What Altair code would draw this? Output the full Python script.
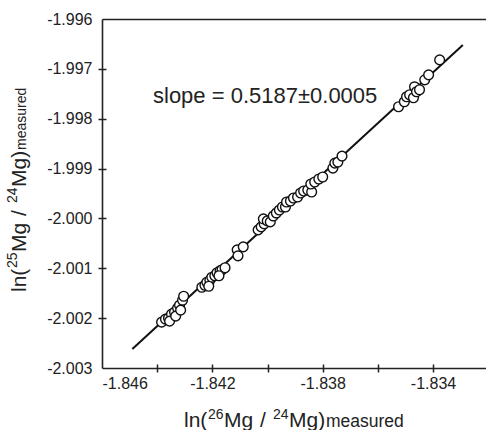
import altair as alt
import pandas as pd

FONT = "Liberation Sans"
INK = "#222222"

# measured isotope ratios
x_vals = [
    -1.84384, -1.84370, -1.84359, -1.84348, -1.84337, -1.84326, -1.84319, -1.84308,
    -1.84304, -1.84355, -1.84333, -1.84315,
    -1.84238, -1.84227, -1.84220, -1.84209, -1.84202, -1.84191, -1.84183, -1.84172,
    -1.84165, -1.84154, -1.84213, -1.84176,
    -1.84110, -1.84107, -1.84088,
    -1.84034, -1.84023, -1.84012, -1.84015, -1.84001, -1.83990, -1.83979, -1.83968,
    -1.83957, -1.83946, -1.83935, -1.83931, -1.83917, -1.83906, -1.83891, -1.83880,
    -1.83869, -1.83854, -1.83840, -1.83843, -1.83829, -1.83814, -1.83800, -1.83763,
    -1.83756, -1.83745, -1.83730,
    -1.83525, -1.83504, -1.83496, -1.83485, -1.83471, -1.83467, -1.83460, -1.83449,
    -1.83430, -1.83416, -1.83376,
]
y_vals = [
    -2.00208, -2.00202, -2.00200, -2.00192, -2.00188, -2.00180, -2.00174, -2.00164,
    -2.00156, -2.00206, -2.00196, -2.00184,
    -2.00138, -2.00134, -2.00128, -2.00124, -2.00118, -2.00115, -2.00109, -2.00105,
    -2.00103, -2.00099, -2.00136, -2.00115,
    -2.00063, -2.00075, -2.00057,
    -2.00023, -2.00017, -2.00011, -2.00001, -2.00005, -2.00007, -1.99995, -1.99989,
    -1.99983, -1.99977, -1.99977, -1.99967, -1.99965, -1.99959, -1.99957, -1.99949,
    -1.99945, -1.99943, -1.99947, -1.99931, -1.99927, -1.99921, -1.99917, -1.99899,
    -1.99889, -1.99887, -1.99875,
    -1.99776, -1.99766, -1.99756, -1.99752, -1.99758, -1.99736, -1.99746, -1.99742,
    -1.99722, -1.99712, -1.99682,
]

# regression line end points
line_x = [-1.84490, -1.83292]
line_y = [-2.00262, -1.99652]

x_domain = [-1.846, -1.83208]
y_domain = [-2.003, -1.996]
x_tick_marks = [-1.844, -1.842, -1.840, -1.838, -1.836, -1.834]
x_tick_labels = [-1.846, -1.842, -1.838, -1.834]
y_tick_marks = [-2.002, -2.001, -2.000, -1.999, -1.998, -1.997]
y_tick_labels = [-2.003, -2.002, -2.001, -2.000, -1.999, -1.998, -1.997, -1.996]

annotation = "slope = 0.5187\u00b10.0005"

pts = pd.DataFrame({"x": x_vals, "y": y_vals})
ln = pd.DataFrame({"x": line_x, "y": line_y})

xs = alt.Scale(domain=x_domain, nice=False, zero=False)
ys = alt.Scale(domain=y_domain, nice=False, zero=False)
lab = "replace(format(datum.value, '.3f'), '\u2212', '-')"

main_x = alt.Axis(orient="bottom", values=x_tick_labels, ticks=False, tickSize=0,
                  domain=True, domainColor=INK, domainWidth=1.6, grid=False, title=None,
                  labelFont=FONT, labelFontSize=16, labelColor=INK, labelPadding=7,
                  labelExpr=lab)
main_y = alt.Axis(orient="left", values=y_tick_labels, ticks=False, tickSize=0,
                  domain=True, domainColor=INK, domainWidth=1.6, grid=False, title=None,
                  labelFont=FONT, labelFontSize=16, labelColor=INK, labelPadding=10,
                  labelExpr=lab)
tick_x = alt.Axis(orient="bottom", values=x_tick_marks, ticks=True, tickSize=8,
                  tickWidth=1.5, tickColor=INK, domain=False, labels=False, grid=False,
                  title=None, offset=-4)
tick_y = alt.Axis(orient="left", values=y_tick_marks, ticks=True, tickSize=8,
                  tickWidth=1.5, tickColor=INK, domain=False, labels=False, grid=False,
                  title=None, offset=-4)
top_x = alt.Axis(orient="top", values=[], ticks=False, tickSize=0, domain=True,
                 domainColor=INK, domainWidth=1.6, labels=False, grid=False, title=None)

border = alt.Chart(pts).mark_point(opacity=0).encode(
    x=alt.X("x:Q", scale=xs, axis=top_x),
    y=alt.Y("y:Q", scale=ys, axis=None),
)
line = alt.Chart(ln).mark_line(color="#111111", strokeWidth=2).encode(
    x=alt.X("x:Q", scale=xs, axis=tick_x),
    y=alt.Y("y:Q", scale=ys, axis=tick_y),
)
points = alt.Chart(pts).mark_circle(
    size=95, fill="white", fillOpacity=1, stroke="#111111", strokeWidth=1.4, opacity=1
).encode(
    x=alt.X("x:Q", scale=xs, axis=main_x),
    y=alt.Y("y:Q", scale=ys, axis=main_y),
)


def piece(text, x, y, size, angle=0):
    return alt.Chart(pd.DataFrame({"label": [text]})).mark_text(
        align="left", baseline="alphabetic", font=FONT, fontSize=size, color=INK,
        angle=angle,
    ).encode(x=alt.value(x), y=alt.value(y), text="label:N")


texts = [
    piece(annotation, 51, 84, 22),
    # x title
    piece("ln(", 82, 408, 21),
    piece("26", 106, 400, 14),
    piece("Mg", 122, 408, 21),
    piece("/", 158, 408, 21),
    piece("24", 171, 400, 14),
    piece("Mg)", 187, 408, 21),
    piece("measured", 224, 408, 17.5),
    # y title
    piece("ln(", -76, 273, 21, 270),
    piece("25", -85, 249, 14, 270),
    piece("Mg", -76, 233, 21, 270),
    piece("/", -76, 197, 21, 270),
    piece("24", -85, 184, 14, 270),
    piece("Mg)", -76, 168, 21, 270),
    piece("measured", -76, 131, 14, 270),
]

chart = alt.layer(border, line, points, *texts).resolve_axis(
    x="independent", y="independent"
).properties(
    width=384, height=349,
    padding={"left": 102, "top": 19, "right": 0, "bottom": 62},
    autosize=alt.AutoSizeParams(type="none"),
).configure_view(stroke=None)

chart.save("out.html", embed_options={"renderer": "svg", "actions": False})
